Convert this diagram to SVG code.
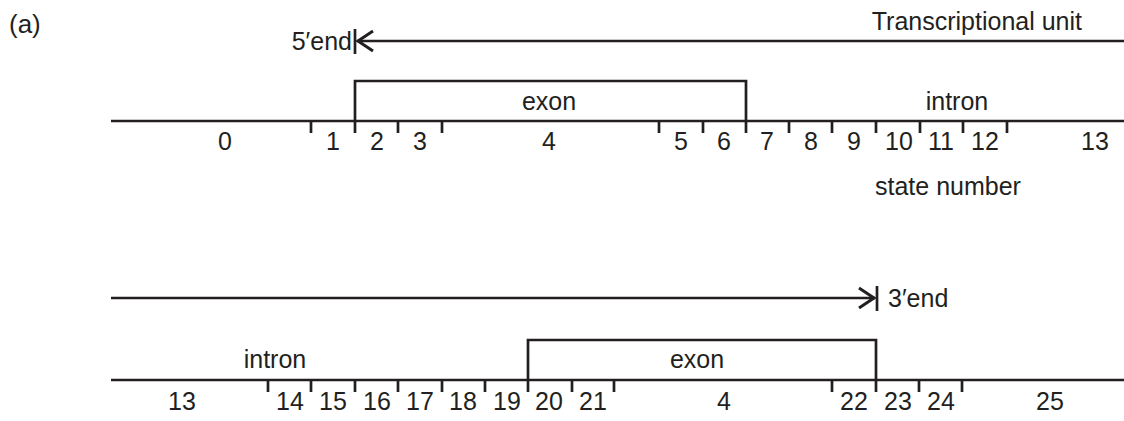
<svg xmlns="http://www.w3.org/2000/svg" width="1124" height="421" viewBox="0 0 1124 421">
<style>
.ln{stroke:#231f20;stroke-width:2.7;fill:none;stroke-linecap:butt}
.ah{stroke:#231f20;stroke-width:3;fill:none;stroke-linejoin:miter}
.tk{stroke:#231f20;stroke-width:2.7;fill:none}
text{font-family:"Liberation Sans",Arial,sans-serif;font-size:25px;fill:#231f20}
.c{text-anchor:middle}
</style>
<rect width="1124" height="421" fill="#fff"/>
<text x="9" y="33" style="font-size:26px">(a)</text>

<g id="connectors">
  <g id="arrow-5end">
    <line class="ln" x1="357" y1="41" x2="1124" y2="41"/>
    <polyline class="ah" points="373,31 358,41 373,51"/>
    <line class="ln" x1="355" y1="29" x2="355" y2="54"/>
  </g>
  <g id="arrow-3end">
    <line class="ln" x1="111" y1="298" x2="875" y2="298"/>
    <polyline class="ah" points="859,288 874,298 859,308"/>
    <line class="ln" x1="877" y1="286" x2="877" y2="311"/>
  </g>
</g>

<g id="label-5end"><text x="352" y="50" text-anchor="end">5′end</text></g>
<g id="label-tu"><text x="1082" y="30" text-anchor="end">Transcriptional unit</text></g>
<g id="label-3end"><text x="888" y="307">3′end</text></g>

<g id="row-top">
  <line class="ln" x1="111" y1="121" x2="1124" y2="121"/>
  <polyline class="ln" points="355,133 355,81 746,81 746,133"/>
  <g class="tk">
    <line x1="311" y1="121" x2="311" y2="133"/>
    <line x1="398" y1="121" x2="398" y2="133"/>
    <line x1="442" y1="121" x2="442" y2="133"/>
    <line x1="659" y1="121" x2="659" y2="133"/>
    <line x1="703" y1="121" x2="703" y2="133"/>
    <line x1="789" y1="121" x2="789" y2="133"/>
    <line x1="832" y1="121" x2="832" y2="133"/>
    <line x1="876" y1="121" x2="876" y2="133"/>
    <line x1="920" y1="121" x2="920" y2="133"/>
    <line x1="963" y1="121" x2="963" y2="133"/>
    <line x1="1007" y1="121" x2="1007" y2="133"/>
  </g>
  <text class="c" x="549" y="110">exon</text>
  <text class="c" x="957" y="110">intron</text>
  <text class="c" x="225" y="150">0</text>
  <text class="c" x="333" y="150">1</text>
  <text class="c" x="377" y="150">2</text>
  <text class="c" x="420" y="150">3</text>
  <text class="c" x="549" y="150">4</text>
  <text class="c" x="681" y="150">5</text>
  <text class="c" x="724" y="150">6</text>
  <text class="c" x="767" y="150">7</text>
  <text class="c" x="811" y="150">8</text>
  <text class="c" x="854" y="150">9</text>
  <text class="c" x="899" y="150">10</text>
  <text class="c" x="941" y="150">11</text>
  <text class="c" x="985" y="150">12</text>
  <text class="c" x="1095" y="150">13</text>
  <text x="875" y="195">state number</text>
</g>

<g id="row-bottom">
  <line class="ln" x1="111" y1="380" x2="1124" y2="380"/>
  <polyline class="ln" points="528,392 528,340 876,340 876,392"/>
  <g class="tk">
    <line x1="268" y1="380" x2="268" y2="392"/>
    <line x1="311" y1="380" x2="311" y2="392"/>
    <line x1="355" y1="380" x2="355" y2="392"/>
    <line x1="398" y1="380" x2="398" y2="392"/>
    <line x1="442" y1="380" x2="442" y2="392"/>
    <line x1="485" y1="380" x2="485" y2="392"/>
    <line x1="572" y1="380" x2="572" y2="392"/>
    <line x1="614" y1="380" x2="614" y2="392"/>
    <line x1="832" y1="380" x2="832" y2="392"/>
    <line x1="919" y1="380" x2="919" y2="392"/>
    <line x1="962" y1="380" x2="962" y2="392"/>
  </g>
  <text class="c" x="697" y="368">exon</text>
  <text class="c" x="275" y="368">intron</text>
  <text class="c" x="182" y="410">13</text>
  <text class="c" x="290" y="410">14</text>
  <text class="c" x="333" y="410">15</text>
  <text class="c" x="377" y="410">16</text>
  <text class="c" x="420" y="410">17</text>
  <text class="c" x="463" y="410">18</text>
  <text class="c" x="507" y="410">19</text>
  <text class="c" x="549" y="410">20</text>
  <text class="c" x="593" y="410">21</text>
  <text class="c" x="724" y="410">4</text>
  <text class="c" x="854" y="410">22</text>
  <text class="c" x="898" y="410">23</text>
  <text class="c" x="941" y="410">24</text>
  <text class="c" x="1050" y="410">25</text>
</g>
</svg>
